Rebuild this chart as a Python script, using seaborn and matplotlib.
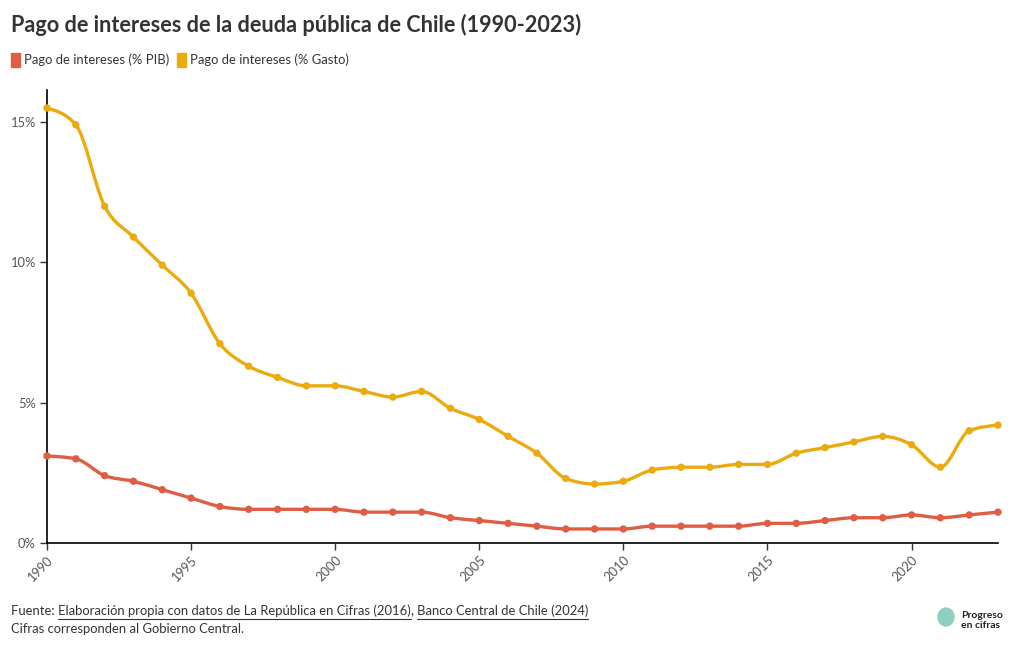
import numpy as np
import pandas as pd
import seaborn as sns
import matplotlib.pyplot as plt
from matplotlib.path import Path
from matplotlib.patches import PathPatch, Ellipse
from matplotlib.ticker import FuncFormatter

years = list(range(1990, 2024))
pib = [3.1, 3.0, 2.4, 2.2, 1.9, 1.6, 1.3, 1.2, 1.2, 1.2,
       1.2, 1.1, 1.1, 1.1, 0.9, 0.8, 0.7, 0.6, 0.5, 0.5,
       0.5, 0.6, 0.6, 0.6, 0.6, 0.7, 0.7, 0.8, 0.9, 0.9,
       1.0, 0.9, 1.0, 1.1]
gasto = [15.5, 14.9, 12.0, 10.9, 9.9, 8.9, 7.1, 6.3, 5.9, 5.6,
         5.6, 5.4, 5.2, 5.4, 4.8, 4.4, 3.8, 3.2, 2.3, 2.1,
         2.2, 2.6, 2.7, 2.7, 2.8, 2.8, 3.2, 3.4, 3.6, 3.8,
         3.5, 2.7, 4.0, 4.2]
series_names = ["Pago de intereses (% PIB)", "Pago de intereses (% Gasto)"]
colors = ["#e05d45", "#ebab0f"]

sns.set_style("white")
plt.rcParams['font.family'] = ['Lato', 'DejaVu Sans']

df = pd.DataFrame({"year": years * 2,
                   "value": pib + gasto,
                   "serie": [series_names[0]] * len(years) + [series_names[1]] * len(years)})


def monotone_path(x, y):
    # d3 curveMonotoneX drawn as cubic bezier segments
    x = np.asarray(x, float)
    y = np.asarray(y, float)
    n = len(x)
    h = np.diff(x)
    s = np.diff(y) / h
    t = np.zeros(n)
    for i in range(1, n - 1):
        p = (s[i - 1] * h[i] + s[i] * h[i - 1]) / (h[i - 1] + h[i])
        t[i] = (np.sign(s[i - 1]) + np.sign(s[i])) * min(abs(s[i - 1]), abs(s[i]), 0.5 * abs(p))
    t[0] = (3 * s[0] - t[1]) / 2
    t[-1] = (3 * s[-1] - t[-2]) / 2
    verts = [(x[0], y[0])]
    codes = [Path.MOVETO]
    for i in range(n - 1):
        dx = h[i] / 3
        verts += [(x[i] + dx, y[i] + dx * t[i]), (x[i + 1] - dx, y[i + 1] - dx * t[i + 1]), (x[i + 1], y[i + 1])]
        codes += [Path.CURVE4] * 3
    return Path(verts, codes)


fig = plt.figure(figsize=(10.2, 6.5), dpi=100)
ax = fig.add_axes([47 / 1020, 1 - 543 / 650, 951 / 1020, 453 / 650])

for name, col in zip(series_names, colors):
    d = df[df.serie == name]
    ax.add_patch(PathPatch(monotone_path(d.year, d.value), facecolor='none',
                           edgecolor=col, lw=2.4, zorder=2, clip_on=False))
sns.scatterplot(data=df, x="year", y="value", hue="serie", palette=colors,
                s=28, edgecolor=None, linewidth=0, ax=ax, legend=False, zorder=3, clip_on=False)

ax.set_xlim(1990, 2023)
ax.set_ylim(0, 16.14)
ax.set_xticks(range(1990, 2021, 5))
ax.set_yticks([0, 5, 10, 15])
ax.yaxis.set_major_formatter(FuncFormatter(lambda v, p: f"{v:.0f}%"))
ax.set_xlabel("")
ax.set_ylabel("")
for sp in ["top", "right"]:
    ax.spines[sp].set_visible(False)
for sp in ["left", "bottom"]:
    ax.spines[sp].set_color("black")
    ax.spines[sp].set_linewidth(1.2)
ax.tick_params(axis="both", length=5, width=1, color="#333333", labelcolor="#555555",
               labelsize=9.3, left=True, bottom=True, pad=3)
plt.setp(ax.get_xticklabels(), rotation=45, ha="right", rotation_mode="anchor")

# title and legend
fig.text(11 / 1020, 1 - 25 / 650, "Pago de intereses de la deuda pública de Chile (1990-2023)",
         fontsize=15.6, fontweight="bold", color="#333333", va="center", ha="left")
lx = 11
for name, col in zip(series_names, colors):
    fig.patches.append(plt.Rectangle((lx / 1020, 1 - 67 / 650), 9 / 1020, 14 / 650,
                                     transform=fig.transFigure, color=col, figure=fig))
    t = fig.text((lx + 13) / 1020, 1 - 60 / 650, name, fontsize=9.4, color="#333333",
                 va="center", ha="left")
    fig.canvas.draw()
    bb = t.get_window_extent()
    lx = bb.x1 + 8

# footer with underlined sources
fig.canvas.draw()
parts = [("Fuente: ", False), ("Elaboración propia con datos de La República en Cifras (2016)", True),
         (", ", False), ("Banco Central de Chile (2024)", True)]
x0 = 11
for txt, under in parts:
    t = fig.text(x0 / 1020, 1 - 611 / 650, txt, fontsize=9.4, color="#333333", va="center", ha="left")
    fig.canvas.draw()
    bb = t.get_window_extent()
    if under:
        fig.lines.append(plt.Line2D([bb.x0 / 1020, bb.x1 / 1020], [1 - 619 / 650] * 2,
                                    transform=fig.transFigure, color="#333333", lw=0.8))
    x0 = bb.x1
fig.text(11 / 1020, 1 - 629 / 650, "Cifras corresponden al Gobierno Central.", fontsize=9.4,
         color="#333333", va="center", ha="left")

# logo
fig.patches.append(Ellipse((946 / 1020, 1 - 617 / 650), 16 / 1020, 18 / 650, transform=fig.transFigure,
                           color="#8ecfbf", figure=fig))
fig.text(961 / 1020, 1 - 615 / 650, "Progreso", fontsize=7.5, fontweight="bold",
         color="#222222", va="center", ha="left")
fig.text(961 / 1020, 1 - 626 / 650, "en cifras", fontsize=7.5, fontweight="bold",
         color="#222222", va="center", ha="left")

fig.savefig("out.png", dpi=100)
